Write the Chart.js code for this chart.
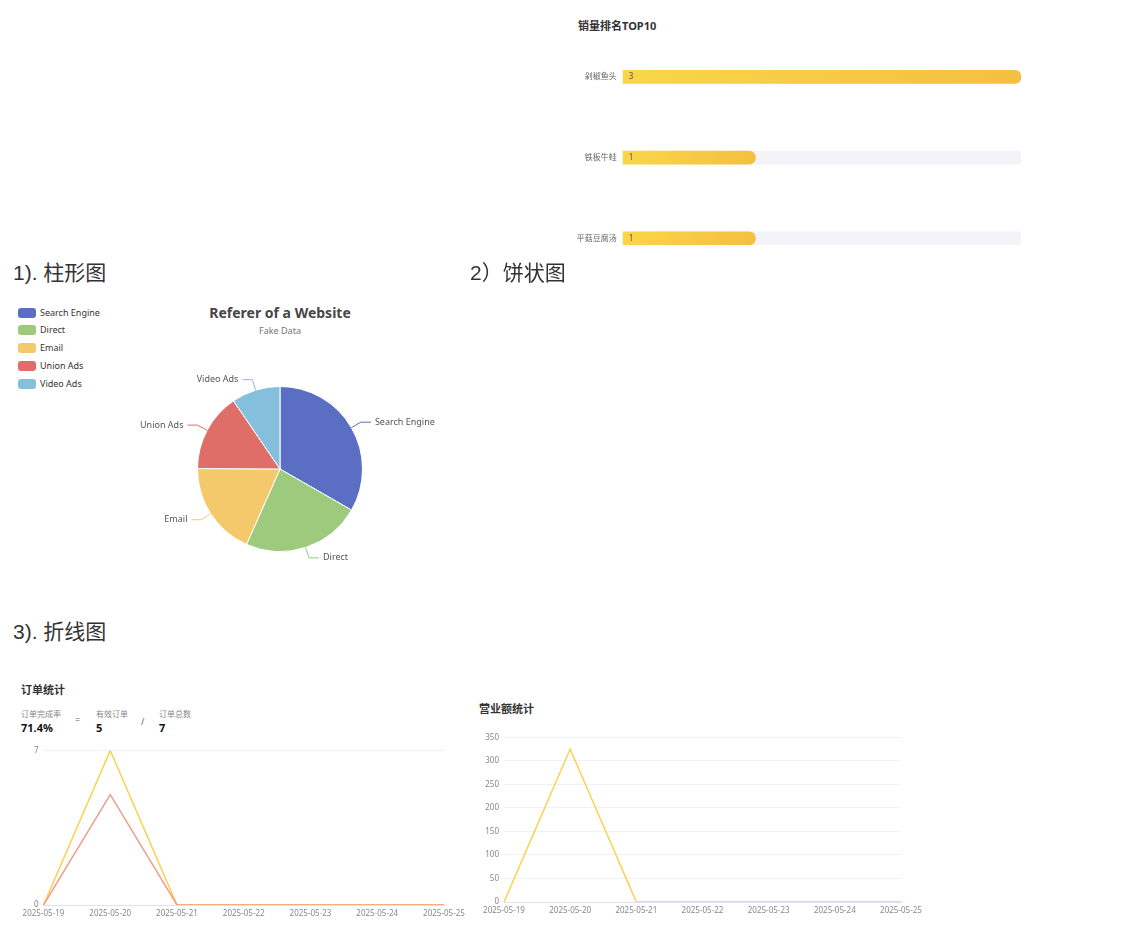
<!DOCTYPE html>
<html lang="zh-CN">
<head>
<meta charset="utf-8">
<title>统计图表</title>
<script src="https://cdn.jsdelivr.net/npm/chart.js@4.4.1/dist/chart.umd.min.js"></script>
<style>
  html, body { margin: 0; padding: 0; background: #fff; }
  body {
    position: relative; width: 1122px; height: 933px; overflow: hidden;
    font-family: "Noto Sans", "Noto Sans CJK SC", sans-serif; color: #333;
  }
  .abs { position: absolute; white-space: nowrap; }
  canvas.abs { display: block; }
  .section {
    font-family: "Liberation Sans", "Noto Sans CJK SC", sans-serif;
    font-size: 21px; line-height: 21px; color: #333; z-index: 2;
  }
  .card-title { font-size: 11px; line-height: 12px; font-weight: bold; color: #333; }
  .stat-label { font-size: 8px; line-height: 9px; color: #888; }
  .stat-value { font-size: 11px; line-height: 12px; font-weight: bold; color: #111; }
  .stat-op { font-size: 9px; line-height: 10px; color: #666; }
  .pie-title { font-size: 14px; line-height: 16px; font-weight: bold; color: #464646; transform: translateX(-50%); }
  .pie-sub { font-size: 9px; line-height: 10px; color: #777; transform: translateX(-50%); }
  .legend-row { font-size: 9px; line-height: 10px; color: #333; }
  .legend-row i {
    position: absolute; left: 0; top: 0; width: 18px; height: 10px; border-radius: 3px;
  }
  .legend-row span { position: absolute; left: 22px; top: 0; }
</style>
</head>
<body>

<!-- TOP10 bar chart -->
<div class="abs card-title" style="left:578px; top:20px;">销量排名TOP10</div>
<canvas id="topChart" class="abs" width="480" height="290" style="left:560px; top:0; width:480px; height:290px;"></canvas>

<!-- section headings -->
<div class="abs section" style="left:13px; top:262px;">1). 柱形图</div>
<div class="abs section" style="left:470px; top:262px;">2）饼状图</div>
<div class="abs section" style="left:13px; top:621px;">3). 折线图</div>

<!-- pie -->
<div class="abs pie-title" style="left:280px; top:305px;">Referer of a Website</div>
<div class="abs pie-sub" style="left:280px; top:326px;">Fake Data</div>
<div id="pieLegend"></div>
<canvas id="pieChart" class="abs" width="460" height="280" style="left:0; top:300px; width:460px; height:280px;"></canvas>

<!-- order stats -->
<div class="abs card-title" style="left:21px; top:684px;">订单统计</div>
<div class="abs stat-label" style="left:21px; top:709px;">订单完成率</div>
<div class="abs stat-value" style="left:21px; top:722px;">71.4%</div>
<div class="abs stat-op" style="left:75px; top:715px;">=</div>
<div class="abs stat-label" style="left:96px; top:709px;">有效订单</div>
<div class="abs stat-value" style="left:96px; top:722px;">5</div>
<div class="abs stat-op" style="left:141px; top:717px;">/</div>
<div class="abs stat-label" style="left:159px; top:709px;">订单总数</div>
<div class="abs stat-value" style="left:159px; top:722px;">7</div>
<canvas id="orderChart" class="abs" width="480" height="200" style="left:0; top:730px; width:480px; height:200px;"></canvas>

<!-- revenue -->
<div class="abs card-title" style="left:479px; top:703px;">营业额统计</div>
<canvas id="revenueChart" class="abs" width="480" height="210" style="left:460px; top:720px; width:480px; height:210px;"></canvas>

<script>
// ---- data ----
const dishes = ['剁椒鱼头', '铁板牛蛙', '平菇豆腐汤'];
const dishSales = [3, 1, 1];
const dishTrack = [3, 3, 3];

const sources = ['Search Engine', 'Direct', 'Email', 'Union Ads', 'Video Ads'];
const visits = [1048, 735, 580, 484, 300];
const pieColors = ['#5a6fc4', '#9dca7c', '#f3c96c', '#df6e68', '#84bfdc'];

const dates = ['2025-05-19', '2025-05-20', '2025-05-21', '2025-05-22', '2025-05-23', '2025-05-24', '2025-05-25'];
const totalOrders = [0, 7, 0, 0, 0, 0, 0];
const validOrders = [0, 5, 0, 0, 0, 0, 0];
const orderTicks = [0, 7];

const revenue = [0, 325, 0, 0, 0, 0, 0];
const revenueTicks = [0, 50, 100, 150, 200, 250, 300, 350];

const FONT = '"Noto Sans", "Noto Sans CJK SC", sans-serif';
Chart.defaults.font.family = FONT;

// ---- TOP10 horizontal bars ----
const barValueLabels = {
  id: 'barValueLabels',
  afterDatasetsDraw(chart) {
    const {ctx} = chart;
    const meta = chart.getDatasetMeta(1);
    ctx.save();
    ctx.font = '8px ' + FONT;
    ctx.fillStyle = '#555';
    ctx.textAlign = 'left';
    ctx.textBaseline = 'middle';
    meta.data.forEach((bar, i) => {
      ctx.fillText(String(dishSales[i]), bar.base + 6, bar.y);
    });
    ctx.restore();
  }
};

new Chart(document.getElementById('topChart'), {
  type: 'bar',
  data: {
    labels: dishes,
    datasets: [
      {
        data: dishTrack,
        backgroundColor: '#f3f3f8',
        barThickness: 13,
        grouped: false,
        order: 2
      },
      {
        data: dishSales,
        barThickness: 13,
        grouped: false,
        order: 1,
        borderRadius: 7,
        borderSkipped: 'start',
        backgroundColor: (c) => {
          const chart = c.chart;
          if (!chart.chartArea || !chart.scales.x || c.raw == null) return '#f6c944';
          const x = chart.scales.x;
          const g = chart.ctx.createLinearGradient(x.getPixelForValue(0), 0, x.getPixelForValue(c.raw), 0);
          g.addColorStop(0, '#f9d648');
          g.addColorStop(1, '#f4bf40');
          return g;
        }
      }
    ]
  },
  options: {
    indexAxis: 'y',
    responsive: false,
    animation: false,
    layout: {padding: {left: 0, right: 19, top: 36.6, bottom: 11.4}},
    plugins: {legend: {display: false}, tooltip: {enabled: false}},
    scales: {
      x: {display: false, min: 0, max: Math.max(...dishTrack)},
      y: {
        grid: {display: false, drawTicks: false},
        border: {display: false},
        ticks: {color: '#666', font: {size: 8}, padding: 6},
        afterFit: (s) => { s.width = 62.7; }
      }
    }
  },
  plugins: [barValueLabels]
});

// ---- pie ----
const legendBox = document.getElementById('pieLegend');
sources.forEach((name, i) => {
  const row = document.createElement('div');
  row.className = 'abs legend-row';
  row.style.left = '18px';
  row.style.top = (307.5 + i * 17.75) + 'px';
  row.innerHTML = '<i style="background:' + pieColors[i] + '"></i><span>' + name + '</span>';
  legendBox.appendChild(row);
});

const pieLabels = {
  id: 'pieLabels',
  afterDatasetsDraw(chart) {
    const {ctx} = chart;
    const meta = chart.getDatasetMeta(0);
    ctx.save();
    ctx.font = '9px ' + FONT;
    ctx.textBaseline = 'middle';
    meta.data.forEach((arc, i) => {
      const p = arc.getProps(['x', 'y', 'startAngle', 'endAngle', 'outerRadius'], true);
      const a = (p.startAngle + p.endAngle) / 2;
      const cos = Math.cos(a), sin = Math.sin(a);
      const x0 = p.x + cos * p.outerRadius, y0 = p.y + sin * p.outerRadius;
      const x1 = p.x + cos * (p.outerRadius + 11), y1 = p.y + sin * (p.outerRadius + 11);
      const dir = cos >= 0 ? 1 : -1;
      const x2 = x1 + dir * 10;
      ctx.strokeStyle = pieColors[i];
      ctx.lineWidth = 1;
      ctx.beginPath();
      ctx.moveTo(x0, y0); ctx.lineTo(x1, y1); ctx.lineTo(x2, y1);
      ctx.stroke();
      ctx.fillStyle = '#555';
      ctx.textAlign = dir > 0 ? 'left' : 'right';
      ctx.fillText(chart.data.labels[i], x2 + dir * 4, y1);
    });
    ctx.restore();
  }
};

new Chart(document.getElementById('pieChart'), {
  type: 'pie',
  data: {
    labels: sources,
    datasets: [{data: visits, backgroundColor: pieColors, borderColor: '#fff', borderWidth: 1}]
  },
  options: {
    responsive: false,
    animation: false,
    layout: {padding: {left: 197, right: 97, top: 86, bottom: 28}},
    plugins: {legend: {display: false}, tooltip: {enabled: false}}
  },
  plugins: [pieLabels]
});

// ---- line charts ----
function lineOptions(ticks, padding, yWidth) {
  return {
    responsive: false,
    animation: false,
    layout: {padding: padding},
    plugins: {legend: {display: false}, tooltip: {enabled: false}},
    elements: {point: {radius: 0}, line: {tension: 0, borderWidth: 1.5}},
    scales: {
      x: {
        grid: {display: false, drawTicks: false},
        border: {display: true, color: '#e0e3ea'},
        ticks: {color: '#888', font: {size: 8}, padding: 4, autoSkip: false, maxRotation: 0}
      },
      y: {
        min: ticks[0],
        max: ticks[ticks.length - 1],
        afterBuildTicks: (axis) => { axis.ticks = ticks.map(v => ({value: v})); },
        grid: {
          drawTicks: false,
          color: (c) => (c.tick && c.tick.value === 0) ? '#e0e3ea' : '#eff1f7'
        },
        border: {display: false},
        ticks: {color: '#888', font: {size: 8}, padding: 5},
        afterFit: (s) => { s.width = yWidth; }
      }
    }
  };
}

new Chart(document.getElementById('orderChart'), {
  type: 'line',
  data: {
    labels: dates,
    datasets: [
      {data: totalOrders, borderColor: '#fad14c', order: 2},
      {data: validOrders, borderColor: '#f19d8c', order: 1}
    ]
  },
  options: lineOptions(orderTicks, {left: 0, right: 36, top: 20.5, bottom: 7.4}, 43.5)
});

new Chart(document.getElementById('revenueChart'), {
  type: 'line',
  data: {
    labels: dates,
    datasets: [{data: revenue, borderColor: '#fad14c'}]
  },
  options: lineOptions(revenueTicks, {left: 0, right: 39, top: 17.3, bottom: 10.4}, 44)
});
</script>
</body>
</html>
